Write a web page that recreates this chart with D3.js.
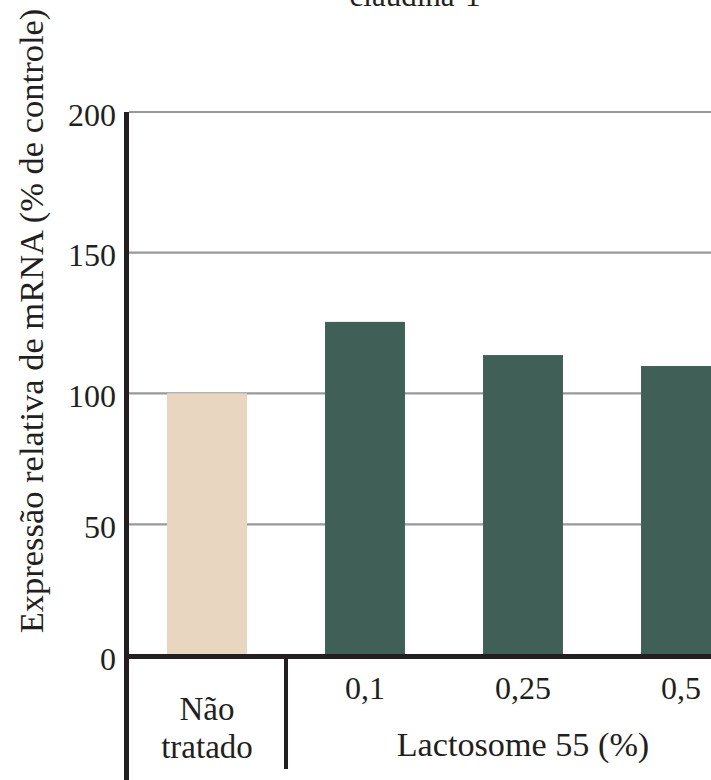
<!DOCTYPE html>
<html>
<head>
<meta charset="utf-8">
<script src="https://cdn.jsdelivr.net/npm/d3@7"></script>
<style>
  html, body { margin: 0; padding: 0; background: #fff; }
  svg { display: block; }
  svg text { font-family: "Liberation Serif", "Times New Roman", serif; fill: #231f20; }
</style>
</head>
<body>
<div id="chart"></div>
<script>
// ---- data ----
const title = "claudina-1";
const categories = ["Não tratado", "0,1", "0,25", "0,5"];
const values = [100, 125.4, 113.6, 109.7];
const barColors = ["#e8d6c0", "#406057", "#406057", "#406057"];
const yTicks = [0, 50, 100, 150, 200];
const yLabel = "Expressão relativa de mRNA (% de controle)";
const groupLabel = "Lactosome 55 (%)";

// ---- layout ----
const W = 711, H = 780;
const FONT = '"Liberation Serif", "Times New Roman", serif';
const svg = d3.select("#chart").append("svg").attr("width", W).attr("height", H)
  .attr("font-family", FONT);

// axis positions as drawn in the reference (uneven spacing between gridlines)
const y = d3.scaleLinear().domain(yTicks).range([656.5, 524.3, 393.3, 252.7, 112]);
const x = d3.scaleBand().domain(categories).range([128, 760])
  .paddingInner(0.494).paddingOuter(0.247);

const axisX = 126.5;

// title (cut at top, as in the reference)
svg.append("text").attr("x", 415).attr("y", 6).attr("text-anchor", "middle")
  .attr("font-size", 31).text(title);

// gridlines
svg.append("g").selectAll("line").data(yTicks.filter(d => d > 0)).join("line")
  .attr("x1", 129).attr("x2", W)
  .attr("y1", d => y(d)).attr("y2", d => y(d))
  .attr("stroke", "#999999").attr("stroke-width", 2.2);

// bars
svg.append("g").selectAll("rect").data(categories).join("rect")
  .attr("x", d => x(d)).attr("width", x.bandwidth())
  .attr("y", (d, i) => y(values[i]))
  .attr("height", (d, i) => y(0) - y(values[i]))
  .attr("fill", (d, i) => barColors[i]);

// y axis tick labels
const yAxis = d3.axisLeft(y).tickValues(yTicks).tickSize(0).tickPadding(0);
const gy = svg.append("g").attr("transform", `translate(116,0)`).call(yAxis);
gy.attr("font-family", FONT).attr("font-size", 32);
gy.select(".domain").remove();
gy.selectAll("text").attr("font-size", 32)
  .attr("fill", "#231f20").attr("dy", 13).attr("x", 0);

// left axis line
svg.append("line").attr("x1", axisX).attr("x2", axisX).attr("y1", 112).attr("y2", H)
  .attr("stroke", "#231f20").attr("stroke-width", 5);

// baseline
svg.append("line").attr("x1", 124).attr("x2", W).attr("y1", y(0)).attr("y2", y(0))
  .attr("stroke", "#231f20").attr("stroke-width", 5);

// separator between control and treated groups
const b0 = x(categories[0]) + x.bandwidth();
const b1 = x(categories[1]);
const sepX = (b0 + b1) / 2;
svg.append("line").attr("x1", sepX).attr("x2", sepX).attr("y1", y(0)).attr("y2", 769)
  .attr("stroke", "#231f20").attr("stroke-width", 4);

// category labels
const cx = d => x(d) + x.bandwidth() / 2;
svg.append("g").selectAll("text").data(categories.slice(1)).join("text")
  .attr("x", d => cx(d)).attr("y", 699).attr("text-anchor", "middle")
  .attr("font-size", 32).text(d => d);

const parts = categories[0].split(" ");
svg.append("text").attr("x", cx(categories[0])).attr("y", 720).attr("text-anchor", "middle")
  .attr("font-size", 33).text(parts[0]);
svg.append("text").attr("x", cx(categories[0])).attr("y", 758).attr("text-anchor", "middle")
  .attr("font-size", 33).text(parts[1]);

// group label
const gx = (x(categories[1]) + x(categories[3]) + x.bandwidth()) / 2;
svg.append("text").attr("x", gx).attr("y", 756).attr("text-anchor", "middle")
  .attr("font-size", 34.2).text(groupLabel);

// y axis label
svg.append("text").attr("transform", "translate(43,321) rotate(-90)")
  .attr("text-anchor", "middle").attr("font-size", 34.5).text(yLabel);
</script>
</body>
</html>
